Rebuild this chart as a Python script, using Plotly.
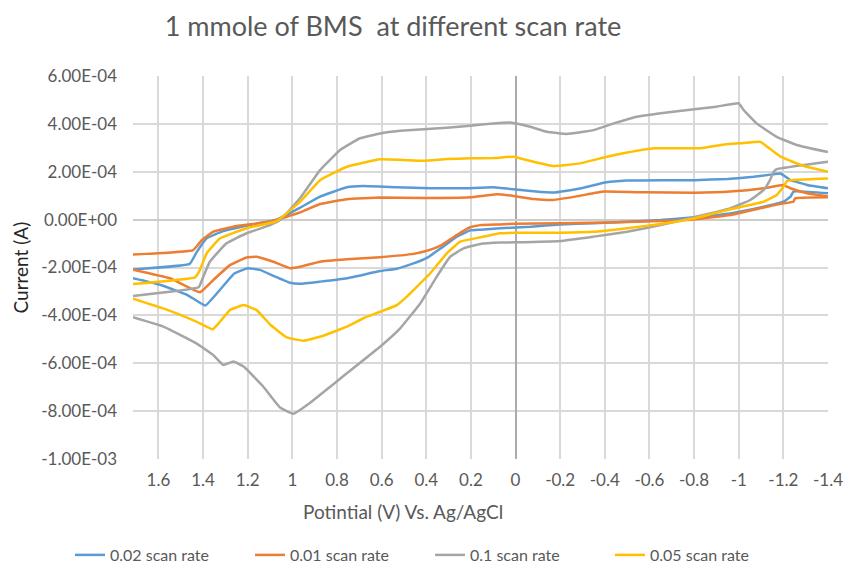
import plotly.graph_objects as go

# ---------------- data (potential in V, current in units of 1e-4 A) ----------------
series_names = ["0.02 scan rate", "0.01 scan rate", "0.1 scan rate", "0.05 scan rate"]
series_colors = ["#5B9BD5", "#ED7D31", "#A5A5A5", "#FFC000"]

# 0.02 scan rate
v_002_fwd = [1.714, 1.46, 1.43, 1.384, 1.31, 1.16, 1.07, 0.965, 0.876, 0.756, 0.682, 0.532, 0.382,
             0.233, 0.099, 0.009, -0.08, -0.17, -0.29, -0.395, -0.50, -0.65, -0.80, -0.95, -1.067,
             -1.142, -1.187, -1.232, -1.307, -1.40]
i_002_fwd = [-2.08, -1.85, -1.38, -0.78, -0.48, -0.17, 0.0, 0.50, 0.96, 1.35, 1.40, 1.35, 1.31,
             1.31, 1.35, 1.27, 1.19, 1.13, 1.30, 1.54, 1.63, 1.65, 1.65, 1.70, 1.79,
             1.88, 1.93, 1.65, 1.45, 1.31]
v_002_rev = [-1.40, -1.245, -1.232, -1.20, -1.112, -0.962, -0.80, -0.65, -0.50, -0.35, -0.20, -0.07,
             0.069, 0.158, 0.203, 0.263, 0.338, 0.397, 0.457, 0.532, 0.607, 0.756, 0.876, 0.965,
             1.01, 1.085, 1.145, 1.20, 1.26, 1.325, 1.39, 1.47, 1.59, 1.714]
i_002_rev = [1.10, 1.17, 0.96, 0.75, 0.54, 0.26, 0.10, -0.02, -0.09, -0.15, -0.20, -0.30,
             -0.36, -0.42, -0.45, -0.71, -1.22, -1.60, -1.83, -2.05, -2.15, -2.45, -2.59, -2.68,
             -2.64, -2.35, -2.10, -2.03, -2.25, -2.94, -3.59, -3.15, -2.73, -2.45]

# 0.01 scan rate
v_001_fwd = [1.714, 1.444, 1.405, 1.354, 1.25, 1.10, 0.965, 0.876, 0.756, 0.607, 0.412, 0.203,
             0.084, 0.009, -0.08, -0.17, -0.29, -0.395, -0.574, -0.80, -0.962, -1.112, -1.20,
             -1.232, -1.307, -1.40]
i_001_fwd = [-1.46, -1.27, -0.85, -0.50, -0.27, -0.09, 0.30, 0.65, 0.85, 0.92, 0.90, 0.93,
             1.06, 0.99, 0.86, 0.82, 1.00, 1.17, 1.14, 1.12, 1.17, 1.31, 1.45,
             1.31, 1.10, 0.97]
v_001_rev = [-1.40, -1.253, -1.245, -1.20, -1.112, -0.962, -0.80, -0.65, -0.50, -0.35, -0.20, 0.0,
             0.069, 0.158, 0.203, 0.263, 0.338, 0.397, 0.457, 0.607, 0.756, 0.876, 0.965, 1.01,
             1.085, 1.16, 1.205, 1.28, 1.354, 1.414, 1.548, 1.714]
i_001_rev = [0.93, 0.89, 0.75, 0.68, 0.51, 0.19, 0.01, -0.06, -0.10, -0.13, -0.15, -0.17,
             -0.20, -0.23, -0.32, -0.64, -1.10, -1.30, -1.43, -1.57, -1.66, -1.76, -1.97, -2.03,
             -1.76, -1.55, -1.58, -1.90, -2.52, -3.03, -2.45, -2.09]

# 0.1 scan rate
v_01_fwd = [1.714, 1.42, 1.405, 1.37, 1.295, 1.205, 1.10, 1.055, 0.965, 0.876, 0.786, 0.697, 0.607,
            0.517, 0.412, 0.308, 0.203, 0.099, 0.024, -0.066, -0.14, -0.23, -0.35, -0.44, -0.53,
            -0.65, -0.80, -0.90, -1.0, -1.022, -1.08, -1.17, -1.26, -1.40]
i_01_fwd = [-3.19, -2.83, -2.52, -1.76, -0.99, -0.57, -0.23, -0.02, 0.90, 2.07, 2.91, 3.40, 3.60,
            3.71, 3.78, 3.84, 3.92, 4.02, 4.06, 3.88, 3.67, 3.58, 3.74, 4.02, 4.27,
            4.44, 4.61, 4.72, 4.86, 4.58, 4.02, 3.46, 3.12, 2.82]
v_01_rev = [-1.40, -1.17, -1.157, -1.14, -1.112, -1.052, -0.962, -0.80, -0.65, -0.50, -0.35, -0.20,
            0.0, 0.069, 0.158, 0.233, 0.293, 0.353, 0.427, 0.517, 0.607, 0.756, 0.83, 0.92, 0.995,
            1.055, 1.13, 1.218, 1.264, 1.31, 1.354, 1.43, 1.578, 1.714]
i_01_rev = [2.42, 2.11, 2.00, 1.65, 1.24, 0.82, 0.47, 0.10, -0.23, -0.51, -0.71, -0.89,
            -0.95, -0.96, -1.02, -1.20, -1.55, -2.38, -3.50, -4.54, -5.31, -6.42, -6.98, -7.65, -8.11,
            -7.85, -6.98, -6.14, -5.93, -6.07, -5.66, -5.17, -4.47, -4.08]

# 0.05 scan rate
v_005_fwd = [1.714, 1.436, 1.414, 1.384, 1.324, 1.205, 1.07, 0.965, 0.876, 0.756, 0.607, 0.412,
             0.308, 0.203, 0.099, 0.009, -0.08, -0.17, -0.29, -0.41, -0.50, -0.62, -0.72, -0.83,
             -0.92, -1.01, -1.097, -1.127, -1.187, -1.292, -1.40]
i_005_fwd = [-2.69, -2.41, -2.10, -1.41, -0.78, -0.36, -0.06, 0.75, 1.65, 2.21, 2.52, 2.46,
             2.53, 2.56, 2.57, 2.63, 2.42, 2.24, 2.35, 2.63, 2.80, 2.98, 2.98, 2.98,
             3.12, 3.19, 3.25, 3.05, 2.63, 2.24, 2.00]
v_005_rev = [-1.40, -1.217, -1.20, -1.17, -1.112, -0.962, -0.80, -0.65, -0.50, -0.35, -0.20, 0.0,
             0.069, 0.158, 0.248, 0.308, 0.382, 0.487, 0.532, 0.607, 0.682, 0.756, 0.861, 0.95,
             1.025, 1.10, 1.16, 1.218, 1.28, 1.33, 1.357, 1.43, 1.578, 1.714]
i_005_rev = [1.72, 1.62, 1.37, 1.03, 0.75, 0.43, 0.05, -0.18, -0.36, -0.51, -0.55, -0.55,
             -0.57, -0.74, -0.92, -1.41, -2.24, -3.22, -3.57, -3.85, -4.12, -4.47, -4.85, -5.06,
             -4.92, -4.38, -3.78, -3.57, -3.78, -4.33, -4.58, -4.26, -3.71, -3.30]

x_tick_vals = [1.6, 1.4, 1.2, 1.0, 0.8, 0.6, 0.4, 0.2, 0.0, -0.2, -0.4, -0.6, -0.8, -1.0, -1.2, -1.4]
x_tick_text = ["1.6", "1.4", "1.2", "1", "0.8", "0.6", "0.4", "0.2", "0", "-0.2", "-0.4", "-0.6",
               "-0.8", "-1", "-1.2", "-1.4"]
y_tick_vals = [6e-4, 4e-4, 2e-4, 0.0, -2e-4, -4e-4, -6e-4, -8e-4, -1e-3]
y_tick_text = ["6.00E-04", "4.00E-04", "2.00E-04", "0.00E+00", "-2.00E-04", "-4.00E-04",
               "-6.00E-04", "-8.00E-04", "-1.00E-03"]

UNIT = 1e-4
series = [
    (v_002_fwd, i_002_fwd, v_002_rev, i_002_rev),
    (v_001_fwd, i_001_fwd, v_001_rev, i_001_rev),
    (v_01_fwd, i_01_fwd, v_01_rev, i_01_rev),
    (v_005_fwd, i_005_fwd, v_005_rev, i_005_rev),
]

FONT = "Lato"
TXT = "#595959"
GRID = "#D9D9D9"
W, H = 846, 564
L, R, T, B = 133, 18, 76, 105

fig = go.Figure()
for name, color, (vf, i_f, vr, i_r) in zip(series_names, series_colors, series):
    xs = list(vf) + [None] + list(vr)
    ys = [v * UNIT for v in i_f] + [None] + [v * UNIT for v in i_r]
    fig.add_trace(go.Scatter(
        x=xs, y=ys, mode="lines", name=name,
        line=dict(color=color, width=2.5, shape="spline", smoothing=0.3),
        connectgaps=False,
    ))

pw = W - L - R
ph = H - T - B

fig.update_layout(
    template="none",
    width=W, height=H,
    margin=dict(l=L, r=R, t=T, b=B, pad=0, autoexpand=False),
    paper_bgcolor="white", plot_bgcolor="white",
    font=dict(family=FONT, color=TXT, size=16),
    title=dict(text="1 mmole of BMS  at different scan rate",
               font=dict(family=FONT, size=27, color=TXT),
               x=393 / W, xanchor="center", xref="container",
               y=1 - 27 / H, yanchor="middle", yref="container"),
    xaxis=dict(range=[1.714, -1.4], tickvals=x_tick_vals, ticktext=x_tick_text,
               showgrid=True, gridcolor=GRID, gridwidth=2,
               zeroline=True, zerolinecolor="#ABABAB", zerolinewidth=1.5,
               showline=False, ticks="", ticklabelstandoff=9, automargin=False,
               tickfont=dict(family=FONT, size=17, color=TXT)),
    yaxis=dict(range=[-1e-3, 6e-4], tickvals=y_tick_vals, ticktext=y_tick_text,
               showgrid=True, gridcolor=GRID, gridwidth=2,
               zeroline=True, zerolinecolor="#CCCCCC", zerolinewidth=2,
               showline=False, ticks="", ticklabelstandoff=15, automargin=False,
               tickfont=dict(family=FONT, size=17, color=TXT)),
    showlegend=True,
    legend=dict(orientation="h", x=(70 - L) / pw, xanchor="left",
                y=(H - B - 555) / ph, yanchor="middle", entrywidth=135,
                font=dict(family=FONT, size=16, color=TXT),
                bgcolor="rgba(0,0,0,0)"),
    annotations=[
        dict(text="Potintial (V) Vs. Ag/AgCl", x=(403 - L) / pw, xref="paper",
             y=(H - B - 512) / ph, yref="paper", xanchor="center", yanchor="middle",
             showarrow=False, font=dict(family=FONT, size=19, color=TXT)),
        dict(text="Current (A)", x=(20 - L) / pw, xref="paper",
             y=0.5, yref="paper", xanchor="center", yanchor="middle", textangle=-90,
             showarrow=False, font=dict(family=FONT, size=19, color="#262626")),
    ],
)

fig.write_html("out.html", config={"displayModeBar": False},
               post_script="document.body.style.margin='0px';")
